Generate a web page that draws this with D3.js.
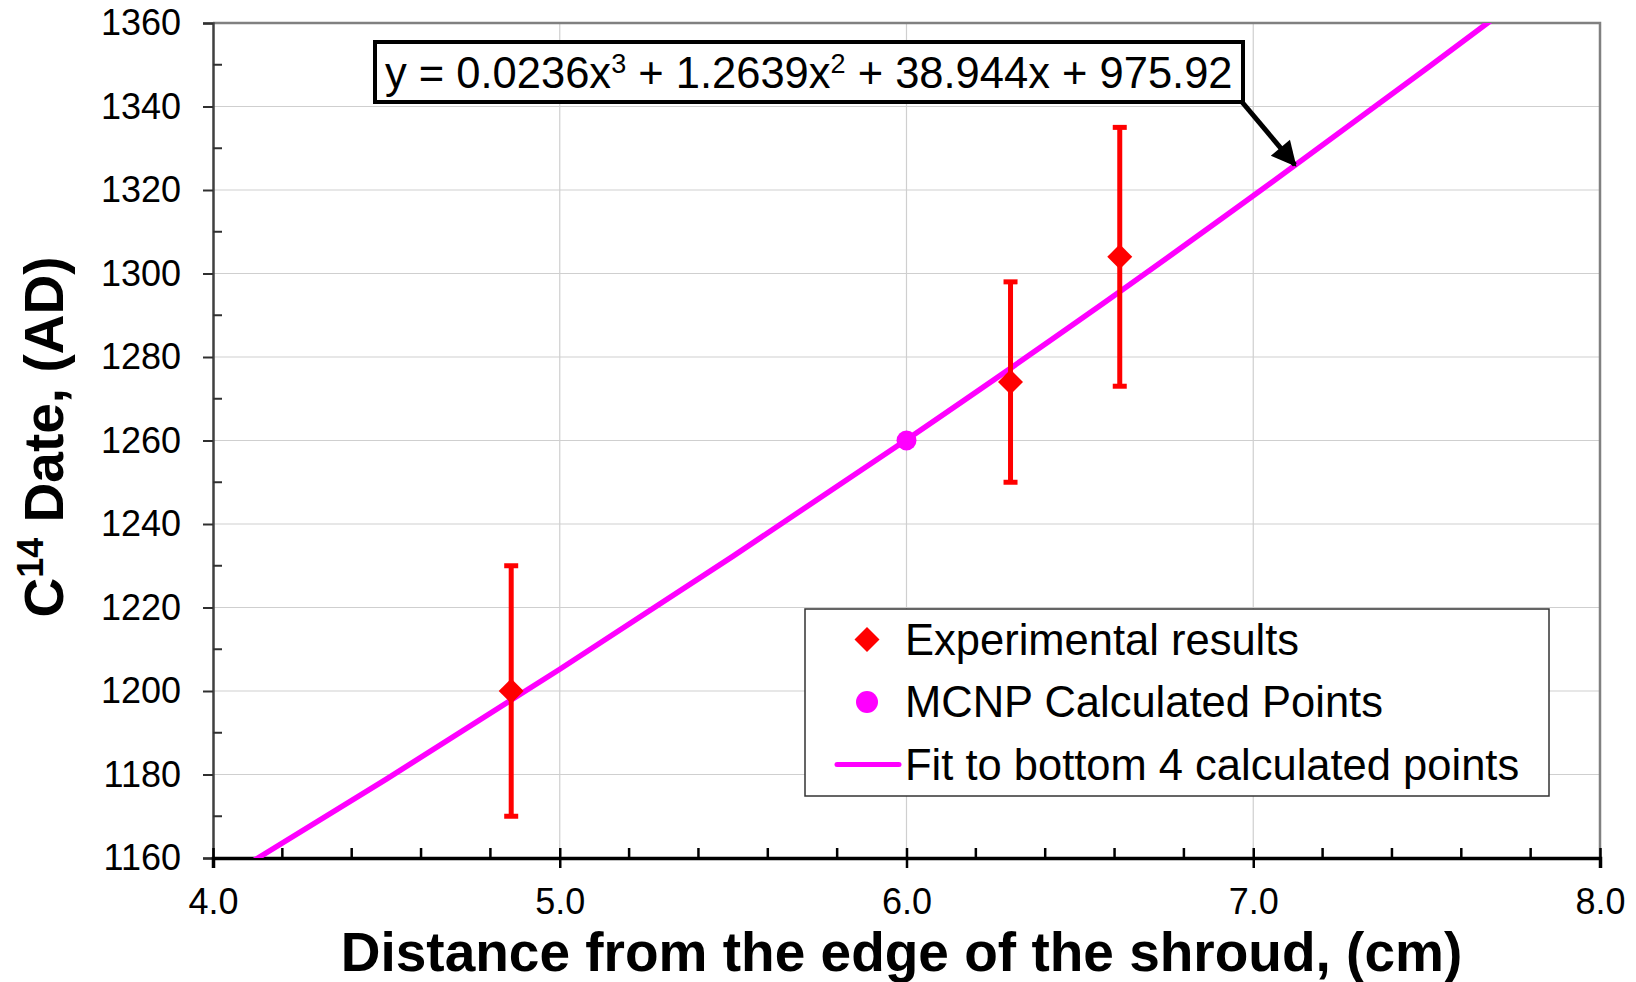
<!DOCTYPE html>
<html><head><meta charset="utf-8">
<script src="https://cdn.jsdelivr.net/npm/d3@7"></script>
<style>html,body{margin:0;padding:0;background:#fff;}svg{display:block;font-family:"Liberation Sans",Arial,sans-serif;}</style>
</head><body><div id="chart"></div>
<script>
// ---- data ----
const expX = [4.86, 6.30, 6.615];
const expY = [1200, 1274, 1304];
const expLow = [1170, 1250, 1273];
const expHigh = [1230, 1298, 1335];
const mcnpX = [6.0];
const mcnpY = [1260];
const fitX = [4.1, 4.5, 5.0, 5.5, 6.0, 6.5, 7.0, 7.5, 7.7];
const fitY = [1158.5, 1178.9, 1205.2, 1232.3, 1260.2, 1288.9, 1318.6, 1349.1, 1361.5];
const xTicks = [4.0, 5.0, 6.0, 7.0, 8.0];
const xMinor = [4.2,4.4,4.6,4.8,5.2,5.4,5.6,5.8,6.2,6.4,6.6,6.8,7.2,7.4,7.6,7.8];
const yTicks = [1160,1180,1200,1220,1240,1260,1280,1300,1320,1340,1360];
const yMinor = [1170,1190,1210,1230,1250,1270,1290,1310,1330,1350];
const legendLabels = ["Experimental results", "MCNP Calculated Points", "Fit to bottom 4 calculated points"];
const equationParts = [["y = 0.0236x",""],["3","sup"],[" + 1.2639x",""],["2","sup"],[" + 38.944x + 975.92",""]];

const W = 1636, H = 982;
const L = 213, R = 1600, T = 23, B = 858;
const svg = d3.select("#chart").append("svg").attr("width", W).attr("height", H);
const x = d3.scaleLinear().domain([4, 8]).range([L, R]);
const y = d3.scaleLinear().domain([1160, 1360]).range([B, T]);

// gridlines
svg.append("g").selectAll("line").data(yTicks.slice(1,-1)).join("line")
  .attr("x1", L).attr("x2", R).attr("y1", d => y(d)).attr("y2", d => y(d))
  .attr("stroke", "#cfcfcf").attr("stroke-width", 1.2);
svg.append("g").selectAll("line").data(xTicks.slice(1,-1)).join("line")
  .attr("y1", T).attr("y2", B).attr("x1", d => x(d)).attr("x2", d => x(d))
  .attr("stroke", "#cfcfcf").attr("stroke-width", 1.2);

// top/right border
svg.append("path").attr("d", `M${L},${T}H${R}V${B}`).attr("fill","none").attr("stroke","#808080").attr("stroke-width",2.5);

// y axis
const yAx = svg.append("g").attr("transform", `translate(${L},0)`)
  .call(d3.axisLeft(y).tickValues(yTicks).tickFormat(d3.format("d")).tickSize(10).tickPadding(22));
yAx.select(".domain").attr("stroke", "#404040").attr("stroke-width", 2.5);
yAx.selectAll(".tick line").attr("stroke", "#303030").attr("stroke-width", 2);
yAx.selectAll("text").attr("font-size", 36).attr("fill", "#000").attr("font-family", "Liberation Sans, Arial, sans-serif");
svg.append("g").selectAll("line").data(yMinor).join("line")
  .attr("x1", L).attr("x2", L + 9).attr("y1", d => y(d)).attr("y2", d => y(d))
  .attr("stroke", "#303030").attr("stroke-width", 2);

// x axis
const xAx = svg.append("g").attr("transform", `translate(0,${B})`)
  .call(d3.axisBottom(x).tickValues(xTicks).tickFormat(d3.format(".1f")).tickSize(10).tickPadding(20));
xAx.select(".domain").attr("stroke", "#000").attr("stroke-width", 3.5);
xAx.selectAll(".tick line").attr("stroke", "#000").attr("stroke-width", 2.5).attr("y1", -10);
xAx.selectAll("text").attr("font-size", 36).attr("fill", "#000").attr("font-family", "Liberation Sans, Arial, sans-serif");
svg.append("g").selectAll("line").data(xMinor).join("line")
  .attr("y1", B).attr("y2", B - 10).attr("x1", d => x(d)).attr("x2", d => x(d))
  .attr("stroke", "#000").attr("stroke-width", 2.5);

// clip
svg.append("clipPath").attr("id", "clip").append("rect").attr("x", L).attr("y", T).attr("width", R - L).attr("height", B - T);

// fit line
const fitData = fitX.map((v, i) => [v, fitY[i]]);
svg.append("path").datum(fitData).attr("clip-path", "url(#clip)")
  .attr("d", d3.line().x(d => x(d[0])).y(d => y(d[1])).curve(d3.curveMonotoneX))
  .attr("fill", "none").attr("stroke", "#ff00ff").attr("stroke-width", 5.5);

// error bars
const eg = svg.append("g");
expX.forEach((v, i) => {
  eg.append("line").attr("x1", x(v)).attr("x2", x(v)).attr("y1", y(expLow[i])).attr("y2", y(expHigh[i]))
    .attr("stroke", "#ff0000").attr("stroke-width", 5);
  [expLow[i], expHigh[i]].forEach(e => eg.append("line").attr("x1", x(v) - 7).attr("x2", x(v) + 7)
    .attr("y1", y(e)).attr("y2", y(e)).attr("stroke", "#ff0000").attr("stroke-width", 5));
});
const diamond = s => `M0,${-s}L${s},0L0,${s}L${-s},0Z`;
eg.selectAll("path.dia").data(expX).join("path").attr("class","dia")
  .attr("transform", (d, i) => `translate(${x(d)},${y(expY[i])})`).attr("d", diamond(12.5)).attr("fill", "#ff0000");

// MCNP
svg.append("g").selectAll("circle").data(mcnpX).join("circle")
  .attr("cx", d => x(d)).attr("cy", (d, i) => y(mcnpY[i])).attr("r", 10).attr("fill", "#ff00ff");

// legend
const lg = svg.append("g");
lg.append("rect").attr("x", 805).attr("y", 609).attr("width", 744).attr("height", 187)
  .attr("fill", "#fff").attr("stroke", "#333").attr("stroke-width", 1.5);
const rowY = [639.5, 702, 764.5];
lg.append("path").attr("transform", `translate(867,${rowY[0]})`).attr("d", diamond(12.5)).attr("fill", "#ff0000");
lg.append("circle").attr("cx", 867).attr("cy", rowY[1]).attr("r", 11).attr("fill", "#ff00ff");
lg.append("line").attr("x1", 837).attr("x2", 899).attr("y1", rowY[2]).attr("y2", rowY[2]).attr("stroke", "#ff00ff").attr("stroke-width", 5).attr("stroke-linecap","round");
lg.selectAll("text").data(legendLabels).join("text")
  .attr("x", 905).attr("y", (d, i) => rowY[i] + 15).attr("font-size", 43.5).attr("fill", "#000").text(d => d);

// equation box + arrow
svg.append("defs").append("marker").attr("id", "arr").attr("viewBox", "0 0 10 10").attr("refX", 9).attr("refY", 5)
  .attr("markerWidth", 6).attr("markerHeight", 5).attr("markerUnits","strokeWidth").attr("orient", "auto")
  .append("path").attr("d", "M0,0L10,5L0,10Z").attr("fill", "#000");
svg.append("line").attr("x1", 1242).attr("y1", 102).attr("x2", x(7.12)).attr("y2", y(1326))
  .attr("stroke", "#000").attr("stroke-width", 5).attr("marker-end", "url(#arr)");
svg.append("rect").attr("x", 375).attr("y", 42).attr("width", 868).attr("height", 60)
  .attr("fill", "#fff").attr("stroke", "#000").attr("stroke-width", 4);
const eq = svg.append("text").attr("x", 385).attr("y", 88).attr("font-size", 43.5).attr("fill", "#000");
equationParts.forEach(p => {
  const t = eq.append("tspan").text(p[0]);
  if (p[1] === "sup") t.attr("font-size", 27).attr("baseline-shift", "super");
});

// axis titles
svg.append("text").attr("x", x(6) - 5).attr("y", 971).attr("text-anchor", "middle")
  .attr("font-size", 55).attr("font-weight", "bold").attr("fill", "#000")
  .text("Distance from the edge of the shroud, (cm)");
const yt = svg.append("text").attr("transform", `translate(63,437) rotate(-90)`)
  .attr("text-anchor", "middle").attr("font-size", 55).attr("font-weight", "bold").attr("fill", "#000");
yt.append("tspan").text("C");
yt.append("tspan").text("14").attr("font-size", 36).attr("baseline-shift", "super");
yt.append("tspan").text(" Date, (AD)");
</script></body></html>
